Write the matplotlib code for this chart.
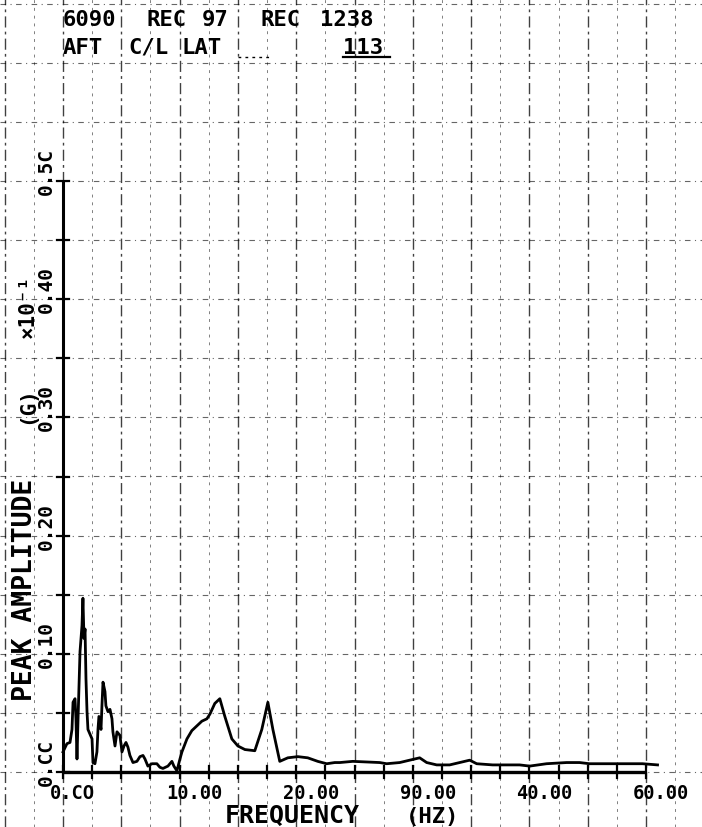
import numpy as np
import matplotlib
matplotlib.use("Agg")
import matplotlib.pyplot as plt

# ---------------- data ----------------
freq = [0.00, 0.34, 0.60, 0.77, 0.86, 1.03, 1.11, 1.20, 1.29, 1.46, 1.63, 1.71, 1.80, 1.89,
        1.97, 2.06, 2.14, 2.49, 2.57, 2.74, 2.91, 3.00, 3.08, 3.26, 3.34, 3.43, 3.60, 3.68,
        3.86, 4.03, 4.20, 4.28, 4.46, 4.63, 4.88, 5.06, 5.23, 5.40, 5.57, 5.74, 6.00, 6.34,
        6.60, 6.86, 7.03, 7.28, 7.63, 8.05, 8.31, 8.57, 9.00, 9.34, 9.51, 9.77, 10.03, 10.20,
        10.63, 11.05, 11.48, 11.91, 12.34, 12.60, 13.02, 13.45, 13.88, 14.48, 15.00, 15.60,
        16.45, 17.05, 17.57, 18.00, 18.59, 19.28, 20.14, 20.99, 21.85, 22.62, 23.31, 23.74,
        24.85, 27.16, 27.76, 28.88, 29.73, 30.59, 31.19, 32.05, 33.16, 34.02, 34.88, 35.48,
        36.85, 39.16, 40.02, 41.47, 43.19, 44.30, 45.16, 47.47, 49.70, 50.99]
amp = [0.017, 0.024, 0.025, 0.036, 0.059, 0.062, 0.045, 0.011, 0.045, 0.102, 0.124, 0.147,
       0.113, 0.121, 0.079, 0.051, 0.036, 0.028, 0.008, 0.007, 0.017, 0.036, 0.047, 0.036,
       0.056, 0.076, 0.068, 0.056, 0.051, 0.053, 0.045, 0.034, 0.022, 0.034, 0.031, 0.017,
       0.022, 0.025, 0.021, 0.014, 0.008, 0.009, 0.013, 0.014, 0.011, 0.005, 0.007, 0.007,
       0.004, 0.003, 0.005, 0.009, 0.005, 0.001, 0.011, 0.017, 0.028, 0.035, 0.039, 0.043,
       0.045, 0.049, 0.058, 0.062, 0.047, 0.028, 0.022, 0.019, 0.018, 0.036, 0.059, 0.036,
       0.009, 0.012, 0.013, 0.012, 0.009, 0.007, 0.008, 0.008, 0.009, 0.008, 0.007, 0.008,
       0.010, 0.012, 0.008, 0.006, 0.006, 0.008, 0.010, 0.007, 0.006, 0.006, 0.005, 0.007,
       0.008, 0.008, 0.007, 0.007, 0.007, 0.006]

x_ticks = [0, 10, 20, 30, 40, 50]
x_tick_labels = ["0.CO", "10.00", "20.00", "90.00", "40.00", "60.00"]
y_ticks = [0.0, 0.1, 0.2, 0.3, 0.4, 0.5]
y_tick_labels = ["0.CC", "0.10", "0.20", "0.30", "0.40", "0.5C"]
title_line1 = ["6090", "REC", "97", "REC", "1238"]
title_line2 = ["AFT", "C/L", "LAT", "113"]
x_title = ["FREQUENCY", "(HZ)"]
y_title = ["PEAK AMPLITUDE", "(G)", "\u00d710\u207b\u00b9"]

# ---------------- layout ----------------
W, H = 702, 828
X0PX, Y0PX = 63.0, 773.0      # pixel of origin
SX, SY = 11.66, 1182.0        # pixels per unit


def dx(px):
    return (px - X0PX) / SX


def dy(py):
    return (Y0PX - py) / SY


fig = plt.figure(figsize=(W / 100, H / 100), dpi=100)
ax = fig.add_axes([0, 0, 1, 1])
ax.set_xlim(dx(0), dx(W))
ax.set_ylim(dy(H), dy(0))
ax.axis("off")

FONT = "DejaVu Sans Mono"

# grid
for xv in np.arange(-5, 55.1, 2.5):
    major = abs(xv / 5 - round(xv / 5)) < 1e-6
    ax.axvline(xv, color="black", lw=1.0 if major else 0.7,
               ls=(0, (8, 3, 2, 3)) if major else (0, (3, 5)),
               alpha=0.75 if major else 0.5, zorder=1)
for yv in np.arange(-0.05, 0.66, 0.05):
    ax.axhline(yv, color="black", lw=0.8, ls=(0, (5, 4, 1, 4)), alpha=0.6, zorder=1)

# axes lines
ax.plot([0, 50], [0, 0], color="black", lw=2.4, zorder=3, solid_capstyle="butt")
ax.plot([0, 0], [0, 0.5], color="black", lw=2.2, zorder=3, solid_capstyle="butt")
for xv in np.arange(0, 50.1, 2.5):
    ax.plot([xv, xv], [dy(Y0PX + 6), dy(Y0PX - 6)], color="black", lw=1.6, zorder=3)
for yv in np.arange(0, 0.501, 0.05):
    ax.plot([dx(X0PX - 6), dx(X0PX + 6)], [yv, yv], color="black", lw=1.6, zorder=3)

# curve
ax.plot(freq, amp, color="black", lw=2.0, zorder=4, solid_joinstyle="round")

# tick labels
for xv, lab in zip(x_ticks, x_tick_labels):
    ax.text(xv + dx(X0PX - 13), dy(799), lab, ha="left", va="baseline",
            fontsize=13.5, fontweight="bold", family=FONT, zorder=5)
for yv, lab in zip(y_ticks, y_tick_labels):
    ax.text(dx(46), yv + 10.5 / SY, lab, ha="center", va="center", rotation=90,
            fontsize=14, fontweight="bold", family=FONT, zorder=5)

# axis titles
ax.text(dx(292), dy(823), x_title[0], ha="center", va="baseline",
        fontsize=18, fontweight="bold", family=FONT)
ax.text(dx(433), dy(823), x_title[1], ha="center", va="baseline",
        fontsize=16, fontweight="bold", family=FONT)
ax.text(dx(25), dy(590), y_title[0], ha="center", va="center", rotation=90,
        fontsize=19, fontweight="bold", family=FONT)
ax.text(dx(27), dy(405), y_title[1], ha="center", va="center", rotation=90,
        fontsize=15, fontweight="bold", family=FONT)
ax.text(dx(28), dy(306), y_title[2], ha="center", va="center", rotation=90,
        fontsize=15, fontweight="bold", family=FONT)

# header text
line1_x = [63, 146, 202, 260, 320]
for xp, word in zip(line1_x, title_line1):
    ax.text(dx(xp), dy(20), word, ha="left", va="center",
            fontsize=16, fontweight="bold", family=FONT)
line2_x = [63, 128, 182, 343]
for xp, word in zip(line2_x, title_line2):
    ax.text(dx(xp), dy(48), word, ha="left", va="center",
            fontsize=16, fontweight="bold", family=FONT)
ax.plot([dx(343), dx(390)], [dy(58), dy(58)], color="black", lw=1.6)
ax.plot([dx(238), dx(272)], [dy(58), dy(58)], color="black", lw=1.0, ls=(0, (2, 3)))

fig.savefig("out.png", dpi=100, facecolor="white")
